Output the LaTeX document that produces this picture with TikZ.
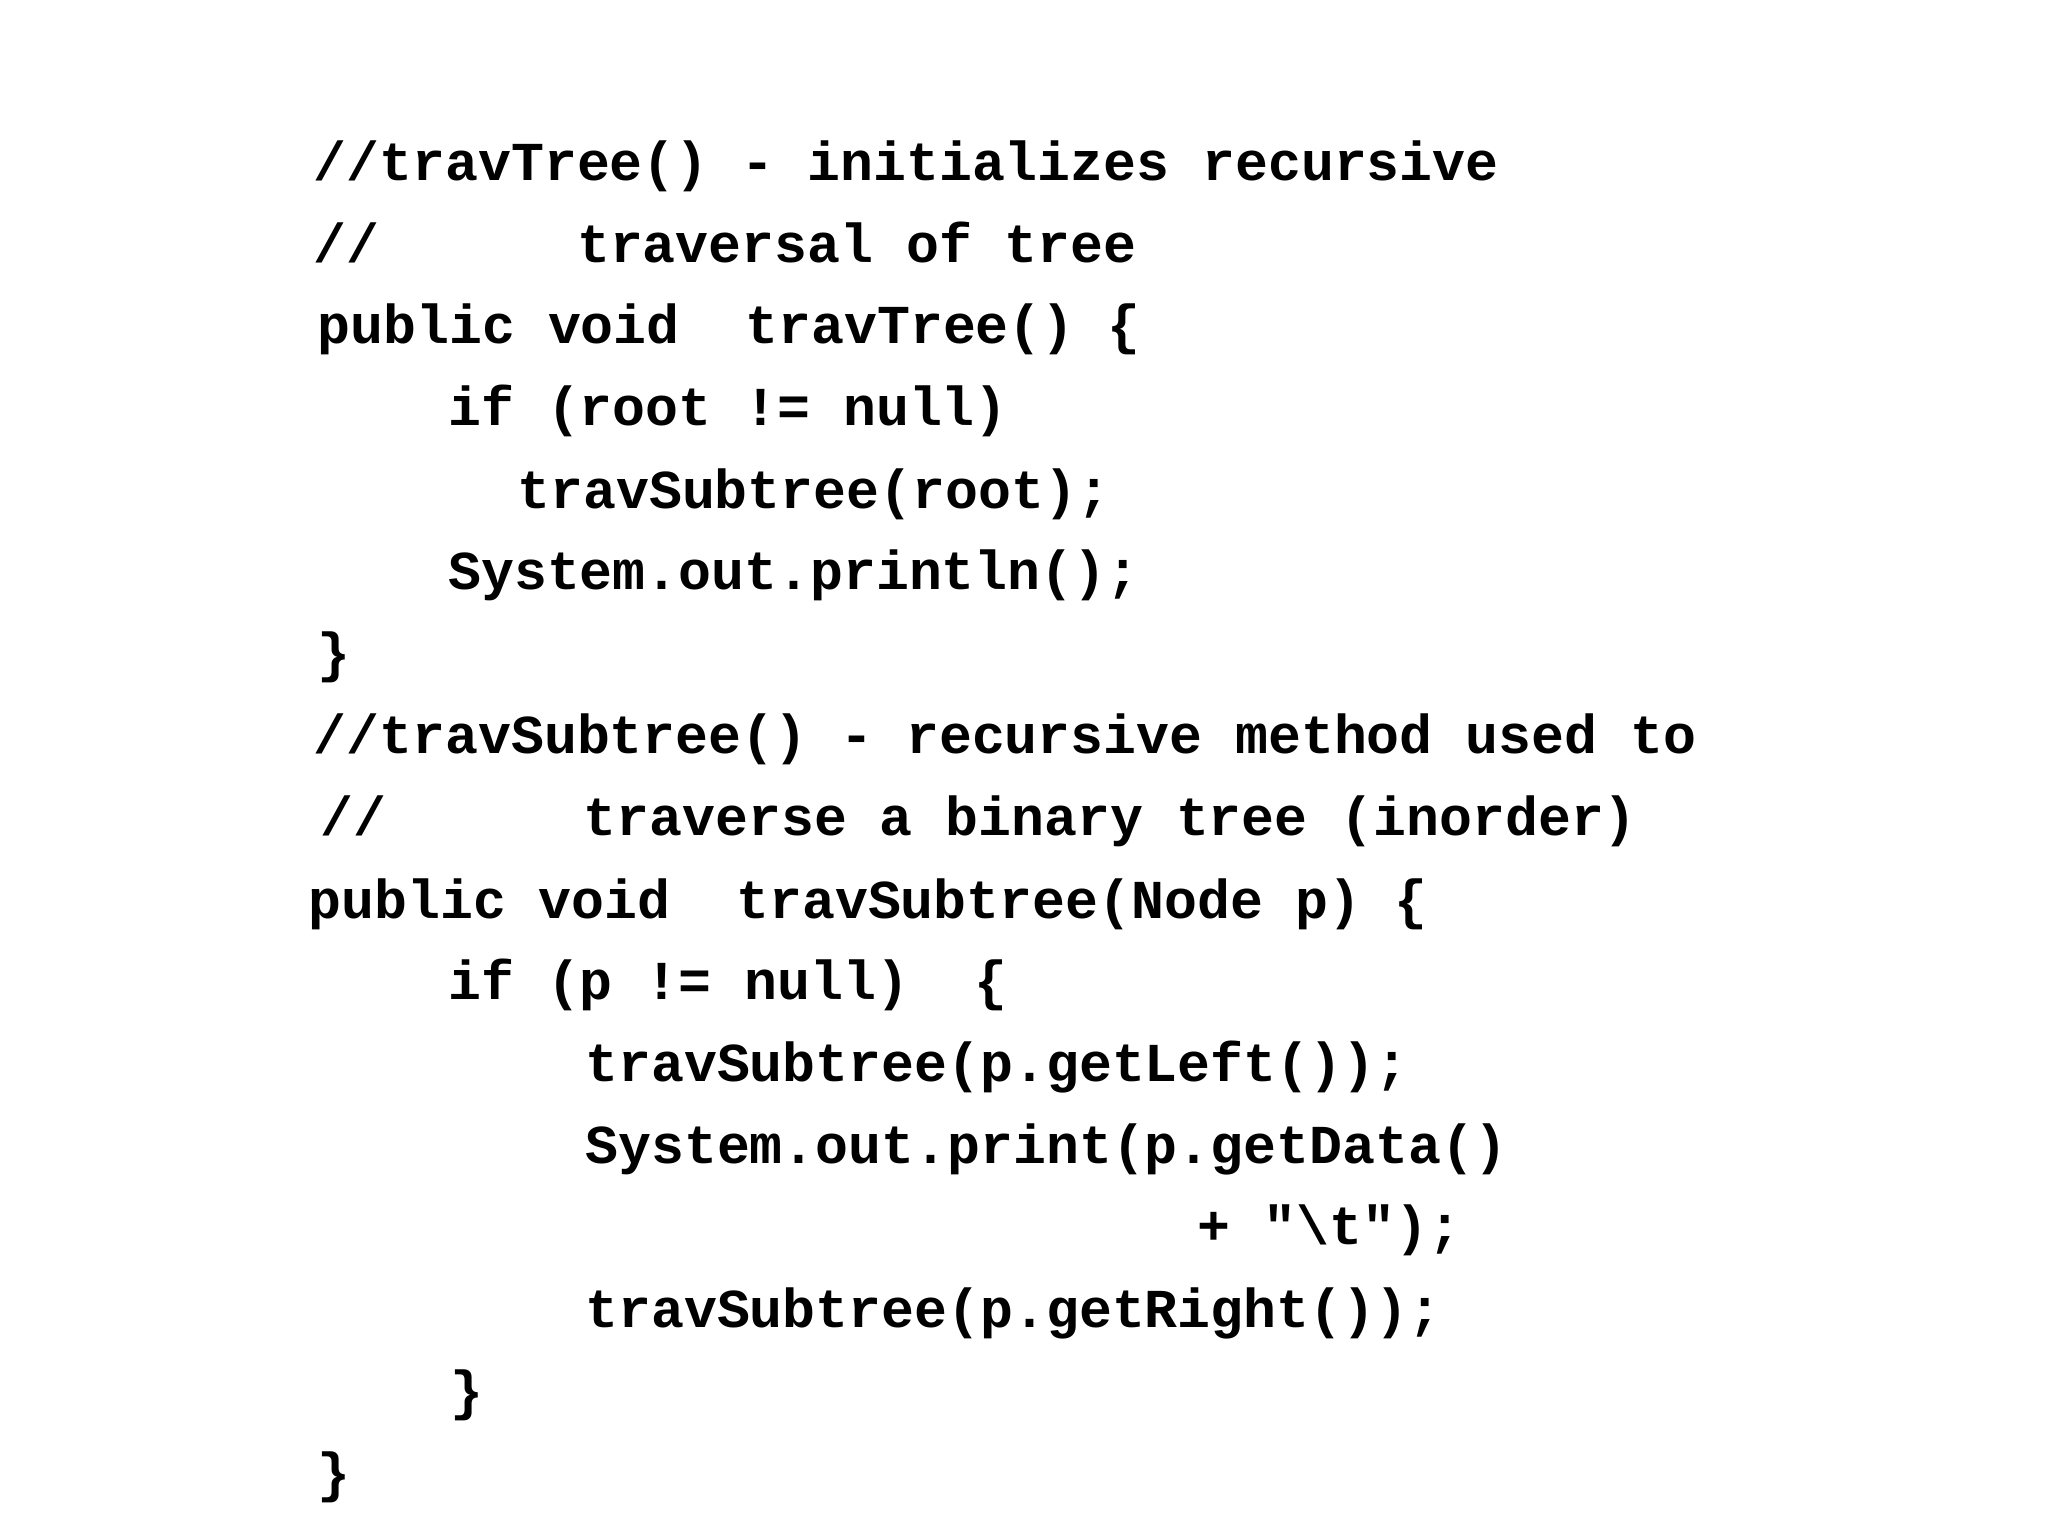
\documentclass[tikz,border=0pt]{standalone}
\usepackage{fontspec}
\setmonofont{Liberation Mono}
\begin{document}
\begin{tikzpicture}[x=1pt,y=-1pt,
  code/.style={anchor=base west,inner sep=0pt,font=\fontsize{42}{42}\selectfont\ttfamily\bfseries}]
\useasboundingbox (0,0) rectangle (1568,1176);
\node[code] (l1) at (240,138) {//travTree()~-~initializes~recursive};
\node[code] (l2) at (240,201) {//~~~~~~traversal~of~tree};
\node[code] (l3) at (243,263) {public~void~~travTree()~\{};
\node[code] (l4) at (343,326) {if~(root~!=~null)};
\node[code] (l5) at (396,389) {travSubtree(root);};
\node[code] (l6) at (343,451) {System.out.println();};
\node[code] (l7) at (243,514) {\}};
\node[code] (l8) at (240,577) {//travSubtree()~-~recursive~method~used~to};
\node[code] (l9) at (245,640) {//~~~~~~traverse~a~binary~tree~(inorder)};
\node[code] (l10) at (236,703) {public~void~~travSubtree(Node~p)~\{};
\node[code] (l11) at (343,765) {if~(p~!=~null)~~\{};
\node[code] (l12) at (448,828) {travSubtree(p.getLeft());};
\node[code] (l13) at (448,891) {System.out.print(p.getData()};
\node[code] (l14) at (917,953) {+~"\textbackslash t");};
\node[code] (l15) at (448,1016) {travSubtree(p.getRight());};
\node[code] (l16) at (345,1079) {\}};
\node[code] (l17) at (243,1142) {\}};
\end{tikzpicture}
\end{document}
